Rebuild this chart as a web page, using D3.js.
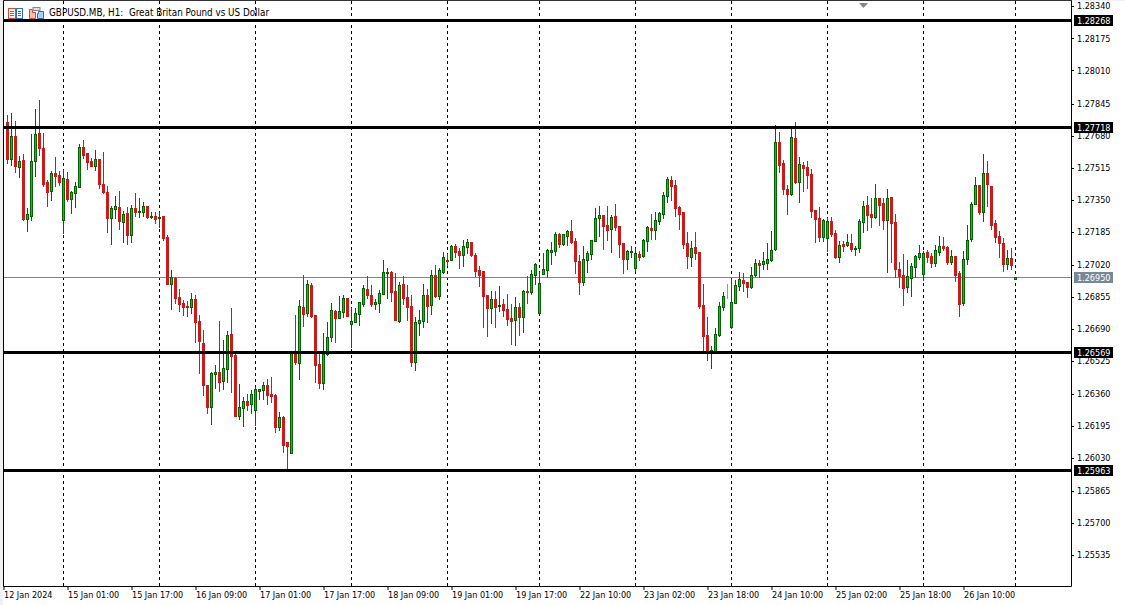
<!DOCTYPE html>
<html><head><meta charset="utf-8">
<script src="https://cdn.jsdelivr.net/npm/d3@7"></script>
<style>
html,body{margin:0;padding:0;background:#fff;overflow:hidden}
svg{display:block}
text{font-family:"DejaVu Sans",sans-serif;font-size:9px;font-stretch:condensed;fill:#000;white-space:pre}
</style></head><body><div id="c"></div>
<script>
// Quotes in points: 1 point = 0.00001
const POINT = 1e-5;
const title = "GBPUSD.MB, H1:  Great Britan Pound vs US Dollar";
const open = [127746,127559,127675,127518,127552,127250,127265,127548,127690,127613,
127439,127393,127485,127475,127245,127455,127352,127383,127414,127618,
127588,127547,127521,127557,127429,127388,127255,127301,127311,127235,
127281,127168,127306,127288,127286,127316,127260,127265,127257,127265,
127158,126917,126948,126851,126820,126805,126800,126841,126728,126616,
126401,126288,126457,126467,126421,126483,126662,126554,126242,126283,
126319,126304,126273,126370,126375,126401,126355,126350,126186,126237,
126109,126053,126570,126514,126800,126769,126913,126759,126508,126411,
126560,126647,126780,126744,126774,126846,126713,126723,126764,126815,
126892,126861,126815,126820,126867,126976,126979,126882,126728,126918,
126851,126805,126519,126718,126728,126861,126810,126964,126856,126979,
127041,127041,127112,127087,127066,127107,127133,127066,126989,126984,
126861,126795,126841,126807,126815,126790,126744,126734,126800,126749,
126882,126877,126964,126769,126969,126989,127081,127087,127174,127122,
127163,127189,127138,127035,126928,127041,127071,127138,127255,127271,
127220,127199,127266,127214,127127,127046,127083,127000,127071,127061,
127138,127204,127194,127240,127276,127368,127450,127424,127312,127286,
127127,127056,127107,127081,126810,126656,126575,126575,126656,126800,
126858,126697,126820,126907,126938,126928,126902,126963,127025,127020,
127025,127040,127096,127644,127536,127403,127378,127664,127439,127526,
127516,127480,127296,127255,127158,127153,127240,127178,127055,127122,
127117,127127,127098,127102,127235,127322,127275,127260,127357,127332,
127245,127362,127235,126994,126963,126902,126950,127004,127055,126968,
127081,127061,127025,127081,127112,127107,127030,127061,126974,126820,
127045,127148,127327,127424,127286,127485,127419,127229,127163,127127,
127020,127050,126943];
const high = [127782,127792,127751,127572,127583,127306,127685,127813,127859,127690,
127450,127496,127567,127496,127501,127490,127393,127439,127634,127654,
127588,127562,127603,127557,127593,127419,127316,127368,127393,127291,
127311,127322,127383,127357,127337,127316,127286,127286,127286,127265,
127168,126989,126954,126892,126836,126831,126872,126861,126759,126682,
126401,126467,126503,126728,126631,126677,126795,126560,126406,126340,
126355,126375,126391,126380,126416,126432,126442,126355,126263,126242,
126109,126570,126759,126836,126964,126938,126923,126759,126565,126667,
126723,126820,126785,126856,126861,126846,126795,126795,126826,126913,
126959,126913,126841,126887,127041,127000,126984,126974,126928,126959,
126913,126861,126749,126785,126918,126892,126989,127015,127000,127081,
127071,127117,127122,127102,127143,127148,127133,127076,127010,126984,
126861,126882,126882,126907,126841,126867,126815,126851,126821,126887,
126959,126989,127025,126979,127076,127097,127133,127184,127179,127174,
127194,127245,127153,127066,127112,127087,127143,127307,127317,127271,
127317,127271,127327,127214,127127,127092,127112,127102,127087,127148,
127214,127276,127286,127286,127388,127465,127470,127450,127317,127286,
127184,127138,127184,127081,126917,126748,126600,126692,126825,126876,
126917,126943,126938,126979,126974,126928,127004,127045,127040,127081,
127127,127188,127731,127695,127552,127424,127710,127746,127567,127542,
127547,127506,127296,127311,127250,127255,127260,127194,127137,127137,
127173,127173,127112,127250,127342,127368,127357,127429,127357,127357,
127403,127362,127275,127030,127071,127040,127025,127066,127117,127086,
127091,127076,127117,127163,127158,127112,127091,127061,126984,127086,
127219,127337,127465,127424,127582,127547,127419,127245,127188,127153,
127091,127102,126953];
const low = [127538,127526,127492,127465,127245,127189,127245,127470,127577,127419,
127316,127347,127419,127424,127178,127342,127281,127311,127414,127562,
127506,127521,127501,127409,127383,127183,127122,127255,127199,127132,
127122,127132,127265,127260,127265,127255,127255,127230,127209,127143,
126917,126790,126820,126780,126759,126754,126769,126621,126462,126350,
126258,126201,126386,126370,126380,126416,126365,126242,126227,126191,
126273,126258,126196,126329,126329,126304,126314,126160,126171,126058,
125966,126053,126508,126432,126703,126754,126749,126416,126386,126380,
126554,126626,126621,126744,126749,126754,126595,126723,126708,126805,
126846,126805,126790,126774,126867,126846,126831,126734,126723,126815,
126734,126498,126478,126657,126698,126723,126764,126851,126841,126974,
127015,127041,127056,127000,127010,127076,127061,126959,126907,126698,
126652,126718,126698,126780,126754,126708,126611,126606,126657,126672,
126821,126867,126918,126769,126969,126954,127020,127066,127107,127117,
127117,127127,126974,126867,126913,126979,127046,127138,127163,127097,
127143,127081,127194,127056,126974,126994,127056,126984,127041,127056,
127087,127148,127148,127225,127255,127337,127348,127266,127199,127102,
127000,127010,127046,126795,126580,126528,126488,126575,126651,126784,
126846,126692,126820,126887,126881,126851,126897,126958,126953,126994,
126994,127035,127091,127490,127378,127275,127373,127434,127337,127393,
127408,127260,127132,127137,127137,127086,127163,127050,127030,127086,
127112,127086,127066,127081,127183,127194,127209,127255,127219,127199,
126979,127030,126953,126902,126810,126876,126856,126953,127045,126938,
127030,127004,127009,127066,127091,127020,127020,126933,126754,126810,
127020,127137,127327,127275,127240,127316,127199,127132,127055,126984,
126994,126994,126943];
const close = [127559,127675,127523,127547,127250,127276,127547,127685,127613,127429,
127388,127485,127470,127439,127460,127352,127388,127419,127618,127577,
127542,127521,127557,127429,127388,127255,127306,127316,127240,127276,
127168,127306,127286,127291,127316,127260,127264,127250,127260,127153,
126917,126953,126846,126815,126800,126802,126841,126723,126626,126401,
126288,126462,126467,126416,126488,126657,126549,126242,126288,126319,
126299,126355,126380,126380,126401,126350,126345,126186,126237,126094,
126089,126565,126519,126805,126764,126918,126752,126503,126411,126560,
126647,126785,126744,126780,126846,126754,126728,126769,126826,126897,
126861,126815,126826,126872,126979,126979,126877,126734,126913,126846,
126800,126519,126723,126734,126861,126805,126964,126856,126989,127056,
127037,127112,127081,127066,127112,127133,127066,126984,126964,126856,
126795,126841,126800,126810,126785,126739,126728,126800,126749,126882,
126879,126969,127020,126923,126994,127092,127092,127174,127122,127174,
127189,127133,127035,126928,127046,127076,127143,127255,127271,127214,
127194,127261,127209,127122,127046,127087,127087,127076,127056,127143,
127209,127194,127245,127281,127373,127455,127419,127307,127276,127122,
127061,127102,127076,126805,126651,126575,126580,126662,126805,126856,
126858,126825,126912,126943,126922,126902,126963,127025,127015,127035,
127045,127091,127644,127526,127403,127378,127669,127439,127531,127511,
127475,127291,127250,127158,127245,127240,127173,127055,127117,127112,
127132,127096,127102,127240,127316,127270,127260,127357,127322,127245,
127357,127229,126994,126958,126897,126958,127009,127061,127076,127076,
127055,127025,127091,127112,127102,127030,127061,126963,126815,127045,
127142,127327,127424,127286,127485,127429,127219,127158,127127,127020,
127050,127015,126952];
// Ticks sit at the true (unrounded) grid prices; the labels are what the terminal prints.
const priceTicks = [1.28340,1.28174,1.28010,1.27841,1.27675,1.27511,1.27347,1.27184,1.27017,1.26851,1.26687,1.26524,1.26355,1.26191,1.26027,1.25858,1.25695,1.25531];
const priceLabels = ["1.28340","1.28175","1.28010","1.27845","1.27680","1.27515","1.27350","1.27185","1.27020","1.26855","1.26690","1.26525","1.26360","1.26195","1.26030","1.25865","1.25700","1.25535"];
const levels = [1.28268,1.27718,1.26569,1.25963];
const bid = 1.26950;
const gridBars = [14,38,62,86,110,133,157,181,205,229,252];
const timeBars = [-1,15,31,47,63,79,95,111,127,143,159,175,191,207,223,239];
const timeLabels = ["12 Jan 2024","15 Jan 01:00","15 Jan 17:00","16 Jan 09:00","17 Jan 01:00","17 Jan 17:00","18 Jan 09:00","19 Jan 01:00","19 Jan 17:00","22 Jan 10:00","23 Jan 02:00","23 Jan 18:00","24 Jan 10:00","25 Jan 02:00","25 Jan 18:00","26 Jan 10:00"];

const W=1125,H=605, L=3, R=1071, B=586;
const x=d3.scaleLinear().domain([0,252]).range([7.5,1015.5]);
const y=d3.scaleLinear().domain([1.2834,1.25535]).range([6,554.2]);
const py=v=>Math.round(y(v))+0.5;
const lvl=v=>Math.floor(y(v))+0.5;
const svg=d3.select('#c').append('svg').attr('width',W).attr('height',H);
svg.append('rect').attr('width',W).attr('height',H).attr('fill','#fff');
svg.append('rect').attr('width',3).attr('height',H).attr('fill','#f0f0f0');
svg.append('rect').attr('width',W).attr('height',1).attr('fill','#f0f0f0');

// grid
svg.append('g').selectAll('line').data(gridBars).join('line')
 .attr('x1',d=>x(d)).attr('x2',d=>x(d)).attr('y1',1).attr('y2',B)
 .attr('stroke','#000').attr('stroke-dasharray','3,3');

// bid line
svg.append('line').attr('x1',L).attr('x2',R).attr('y1',lvl(bid)).attr('y2',lvl(bid)).attr('stroke','#778899');

// candles
const bars=d3.range(open.length).map(i=>({i,o:open[i]*POINT,h:high[i]*POINT,l:low[i]*POINT,c:close[i]*POINT}));
const col=d=>d.c===d.o?'#00ff00':d.c>d.o?'#006400':'#b22222';
const g=svg.append('g');
g.selectAll('line').data(bars).join('line')
 .attr('x1',d=>x(d.i)).attr('x2',d=>x(d.i))
 .attr('y1',d=>py(d.h)-0.5).attr('y2',d=>py(d.l)+0.5)
 .attr('stroke',col);
g.selectAll('rect').data(bars).join('rect')
 .attr('x',d=>x(d.i)-1).attr('width',2)
 .attr('y',d=>py(Math.max(d.o,d.c)))
 .attr('height',d=>Math.max(0,py(Math.min(d.o,d.c))-py(Math.max(d.o,d.c))))
 .attr('fill',d=>d.c===d.o?'#00ff00':d.c>d.o?'#00d000':'#cc1a1a')
 .attr('stroke',d=>d.c===d.o?'#00ff00':d.c>d.o?'#006400':'#cc1a1a');

// level lines
svg.append('g').selectAll('line').data(levels).join('line')
 .attr('x1',L).attr('x2',R).attr('y1',lvl).attr('y2',lvl).attr('stroke','#000').attr('stroke-width',3);

// frame + axes
const tickLabel=d3.scaleOrdinal(priceTicks,priceLabels);
const ax=svg.append('g').attr('transform',`translate(${R},0)`)
 .call(d3.axisRight(y).tickValues(priceTicks).tickFormat(tickLabel).tickSize(3).tickPadding(3));
ax.selectAll('.tick line').attr('shape-rendering','crispEdges').attr('stroke','#000');
ax.select('.domain').remove();
ax.selectAll('text').attr('fill','#000').style('font-family','"DejaVu Sans",sans-serif').style('font-size','9px');
const labelOf=d3.scaleOrdinal(timeBars,timeLabels);
const bx=svg.append('g').attr('transform',`translate(0,${B})`)
 .call(d3.axisBottom(x).tickValues(timeBars).tickFormat(labelOf).tickSize(4).tickPadding(2));
bx.select('.domain').remove();
bx.selectAll('.tick line').attr('stroke','#000');
bx.selectAll('text').attr('text-anchor','start').attr('dx',0).attr('fill','#000').style('font-family','"DejaVu Sans",sans-serif').style('font-size','9px');
svg.append('path').attr('d',`M${L+.5},0V${B+.5}H${R+.5}V0`).attr('fill','none').attr('stroke','#000');
svg.append('line').attr('x1',L).attr('x2',R+1).attr('y1',0.5).attr('y2',0.5).attr('stroke','#333');

// price tags
const tags=levels.map(v=>({v,f:'#000'})).concat([{v:bid,f:'#778899'}]);
const tg=svg.append('g').selectAll('g').data(tags).join('g').attr('transform',d=>`translate(1074,${Math.floor(y(d.v))-5})`);
tg.append('rect').attr('width',39).attr('height',11).attr('fill',d=>d.f);
tg.append('text').attr('x',3).attr('y',8.5).style('fill','#fff').text(d=>d3.format('.5f')(d.v));

// header
svg.append('text').attr('x',49).attr('y',16).style('font-size','9.8px').text(title);
const ic=svg.append('g').attr('transform','translate(8,8)').attr('fill','none');
ic.append('rect').attr('x',.5).attr('y',.5).attr('width',7).attr('height',10).attr('stroke','#e8402a');
ic.append('path').attr('d','M2,3.5H6M2,5.5H6M2,7.5H6').attr('stroke','#e8402a');
ic.append('rect').attr('x',8.5).attr('y',.5).attr('width',6).attr('height',10).attr('stroke','#2a6fc0');
ic.append('path').attr('d','M10,3.5H13M10,5.5H13M10,7.5H13').attr('stroke','#2a6fc0');
const ic2=svg.append('g').attr('transform','translate(29,7)');
ic2.append('path').attr('d','M.5,2.5H3.5V5.5H6.5V11.5H.5Z').attr('fill','#f6c0b8').attr('stroke','#e8402a');
ic2.append('rect').attr('x',4).attr('y',.5).attr('width',7).attr('height',3).attr('fill','#ddd').attr('stroke','#888');
ic2.append('path').attr('d','M9.5,4.5H14.5V11.5H8.5V6.5H9.5Z').attr('fill','#a8d0ee').attr('stroke','#2a6fc0');
svg.append('path').attr('d','M859,3H868L863.5,8Z').attr('fill','#778899');
</script></body></html>
